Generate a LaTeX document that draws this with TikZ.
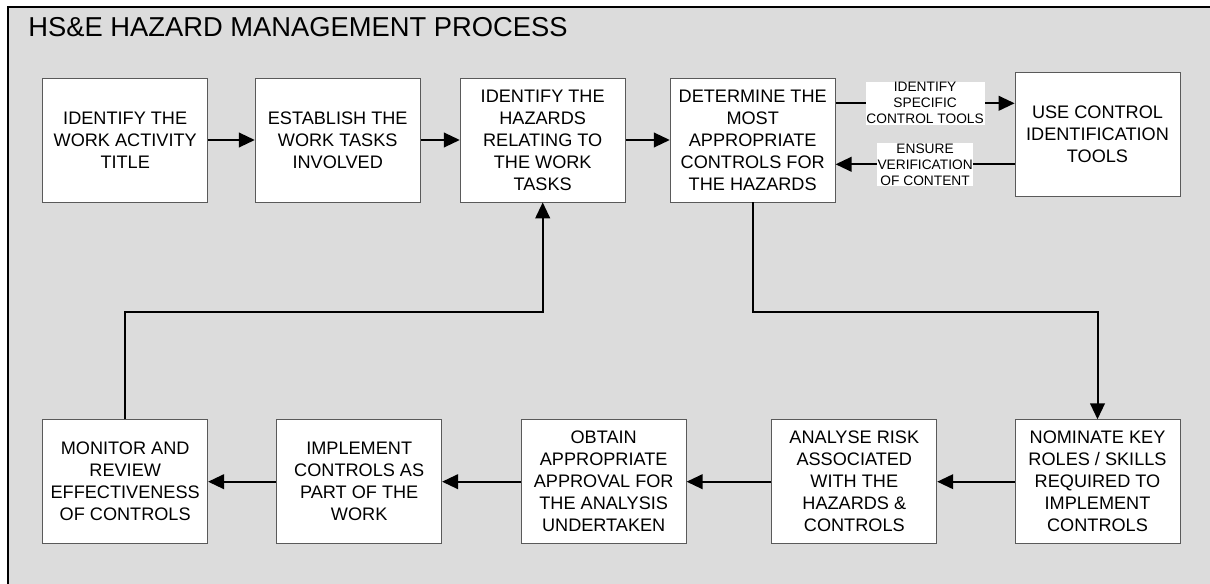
\documentclass[tikz,border=0pt]{standalone}
\usepackage{fontspec}
\setmainfont{Liberation Sans}
\usetikzlibrary{arrows.meta}

\definecolor{panelgray}{RGB}{220,220,220}
\definecolor{boxedge}{RGB}{90,90,90}

\tikzset{every picture/.style={line width=0.75pt}}
\tikzset{
  stepbox/.style={draw=boxedge, fill=white, line width=0.6pt, align=center,
    minimum width=123.75pt, minimum height=93pt, inner sep=2pt,
    font=\fontsize{13.6}{16.5}\selectfont},
  flow/.style={line width=1.5pt, -{Triangle[length=12pt,width=11pt]}},
  tag/.style={fill=white, align=center, inner sep=0.6pt,
    font=\fontsize{10.3}{12}\selectfont}
}

\begin{document}
\begin{tikzpicture}[x=0.75pt,y=0.75pt,yscale=-1,xscale=1]
\clip (0,0) rectangle (1210,584);

%Shape: Rectangle [panel]
\draw[fill=panelgray, line width=1pt] (8,7) rectangle (1225,600);
%Text [title]
\node[anchor=base west, inner sep=0pt, font=\fontsize{20.5}{24}\selectfont] (title) at (28,37) {HS\&E HAZARD MANAGEMENT PROCESS};

%Top row
\node[stepbox] (activity) at (125.2,140) {IDENTIFY THE\\WORK ACTIVITY\\TITLE};
\node[stepbox] (tasks) at (337.7,140) {ESTABLISH THE\\WORK TASKS\\INVOLVED};
\node[stepbox] (hazards) at (542.7,140) {IDENTIFY THE\\HAZARDS\\RELATING TO\\THE WORK\\TASKS};
\node[stepbox] (controls) at (752.7,140) {DETERMINE THE\\MOST\\APPROPRIATE\\CONTROLS FOR\\THE HAZARDS};
\node[stepbox, minimum height=92.5pt] (tools) at (1097.5,134.3) {USE CONTROL\\IDENTIFICATION\\TOOLS};

%Bottom row
\node[stepbox] (monitor) at (125.2,481.7) {MONITOR AND\\REVIEW\\EFFECTIVENESS\\OF CONTROLS};
\node[stepbox] (implement) at (359.2,481.7) {IMPLEMENT\\CONTROLS AS\\PART OF THE\\WORK};
\node[stepbox] (approval) at (603.7,481.7) {OBTAIN\\APPROPRIATE\\APPROVAL FOR\\THE ANALYSIS\\UNDERTAKEN};
\node[stepbox] (risk) at (854.3,481.7) {ANALYSE RISK\\ASSOCIATED\\WITH THE\\HAZARDS \&\\CONTROLS};
\node[stepbox] (roles) at (1097.5,481.7) {NOMINATE KEY\\ROLES / SKILLS\\REQUIRED TO\\IMPLEMENT\\CONTROLS};

%Helper coordinates
\coordinate (upper) at (925,103.3);
\coordinate (lower) at (925,164.3);
\coordinate (midrow) at (0,311.7);

%Straight Lines
\draw[flow] (activity) -- (tasks);
\draw[flow] (tasks) -- (hazards);
\draw[flow] (hazards) -- (controls);
\draw[flow] (controls.east |- upper) -- (tools.west |- upper) node[tag, pos=0.5] (lblA) {IDENTIFY\\SPECIFIC\\CONTROL TOOLS};
\draw[flow] (tools.west |- lower) -- (controls.east |- lower) node[tag, pos=0.5] (lblB) {ENSURE\\VERIFICATION\\OF CONTENT};
\draw[flow] (controls.south) |- (roles.north |- midrow) -- (roles.north);
\draw[flow] (roles) -- (risk);
\draw[flow] (risk) -- (approval);
\draw[flow] (approval) -- (implement);
\draw[flow] (implement) -- (monitor);
\draw[flow] (monitor.north) |- (hazards.south |- midrow) -- (hazards.south);

\end{tikzpicture}
\end{document}
